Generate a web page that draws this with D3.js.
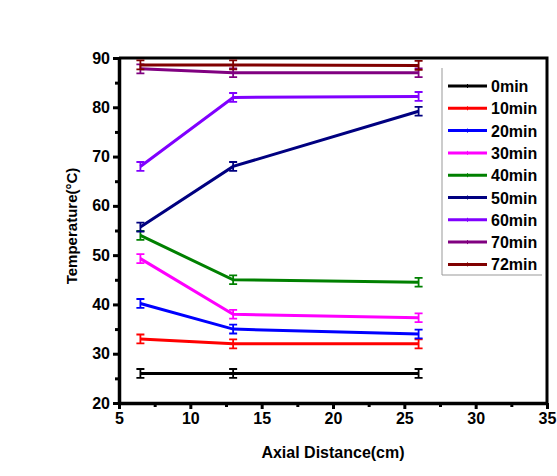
<!DOCTYPE html>
<html>
<head>
<meta charset="utf-8">
<script src="https://cdn.jsdelivr.net/npm/d3@7"></script>
<style>
  body { margin: 0; background: #fff; }
  text { font-family: "Liberation Sans", Arial, sans-serif; font-weight: bold; }
</style>
</head>
<body>
<script>
const width = 557;
const height = 476;

// data
const distances = [6.5, 13, 26];
const seriesNames = ["0min", "10min", "20min", "30min", "40min", "50min", "60min", "70min", "72min"];
const seriesColors = ["#000000", "#ff0000", "#0000ff", "#ff00ff", "#008000", "#000080", "#8000ff", "#800080", "#800000"];
const t0 = [26, 26, 26];
const t10 = [33, 32, 32];
const t20 = [40.2, 35, 34];
const t30 = [49.3, 38, 37.3];
const t40 = [54, 45, 44.5];
const t50 = [55.7, 68, 79.2];
const t60 = [68, 82, 82.2];
const t70 = [87.8, 87, 87];
const t72 = [88.6, 88.6, 88.5];
const errs = [0.9, 0.9, 0.9];
const xTicks = [5, 10, 15, 20, 25, 30, 35];
const yTicks = [20, 30, 40, 50, 60, 70, 80, 90];

const values = [t0, t10, t20, t30, t40, t50, t60, t70, t72];

const svg = d3.select("body").append("svg")
  .attr("width", width)
  .attr("height", height);

const x = d3.scaleLinear().domain([5, 35]).range([119, 547]);
const y = d3.scaleLinear().domain([20, 90]).range([403, 58]);

// frame top + right
svg.append("path")
  .attr("d", `M${x(5)},${y(90)}H${x(35)}V${y(20)}`)
  .attr("fill", "none")
  .attr("stroke", "#000")
  .attr("stroke-width", 3);

// minor ticks
const xMinor = d3.range(7.5, 35, 5);
const yMinor = d3.range(25, 90, 10);

svg.append("g")
  .attr("transform", `translate(0,${y(20)})`)
  .call(d3.axisBottom(x).tickValues(xTicks).tickSize(6).tickSizeOuter(0).tickPadding(4));
svg.append("g")
  .attr("transform", `translate(0,${y(20)})`)
  .call(d3.axisBottom(x).tickValues(xMinor).tickSize(4).tickFormat(""))
  .call(g => g.select(".domain").remove());

svg.append("g")
  .attr("transform", `translate(${x(5)},0)`)
  .call(d3.axisLeft(y).tickValues(yTicks).tickSize(6).tickSizeOuter(0).tickPadding(3));
svg.append("g")
  .attr("transform", `translate(${x(5)},0)`)
  .call(d3.axisLeft(y).tickValues(yMinor).tickSize(4).tickFormat(""))
  .call(g => g.select(".domain").remove());

svg.selectAll(".tick line").attr("stroke-width", 3);
svg.selectAll(".domain").attr("stroke-width", 3.5);
svg.selectAll(".tick text")
  .attr("font-size", 16)
  .attr("font-family", "Liberation Sans, Arial, sans-serif")
  .attr("font-weight", "bold")
  .attr("fill", "#000");

// axis titles
svg.append("text")
  .attr("x", 333)
  .attr("y", 458)
  .attr("text-anchor", "middle")
  .attr("font-size", 16)
  .text("Axial Distance(cm)");

svg.append("text")
  .attr("transform", "translate(77,226) rotate(-90)")
  .attr("text-anchor", "middle")
  .attr("font-size", 15)
  .text("Temperature(°C)");

// series
const line = d3.line()
  .x((d, i) => x(distances[i]))
  .y(d => y(d));

values.forEach((vals, s) => {
  const c = seriesColors[s];
  const g = svg.append("g");
  g.append("path")
    .attr("d", line(vals))
    .attr("fill", "none")
    .attr("stroke", c)
    .attr("stroke-width", 3);
  vals.forEach((v, i) => {
    const cx = x(distances[i]);
    const y1 = y(v + errs[i]);
    const y2 = y(v - errs[i]);
    g.append("path")
      .attr("d", `M${cx},${y1}V${y2}M${cx - 4},${y1}H${cx + 4}M${cx - 4},${y2}H${cx + 4}`)
      .attr("fill", "none")
      .attr("stroke", c)
      .attr("stroke-width", 1.8);
  });
});

// legend
const legend = svg.append("g");
legend.append("path")
  .attr("d", "M442,68V275H542")
  .attr("fill", "none")
  .attr("stroke", "#999")
  .attr("stroke-width", 1);

seriesNames.forEach((name, i) => {
  const ly = 86 + i * 22.3;
  legend.append("line")
    .attr("x1", 448).attr("x2", 487)
    .attr("y1", ly).attr("y2", ly)
    .attr("stroke", seriesColors[i])
    .attr("stroke-width", 3);
  legend.append("line")
    .attr("x1", 467.5).attr("x2", 467.5)
    .attr("y1", ly - 2).attr("y2", ly + 2)
    .attr("stroke", seriesColors[i])
    .attr("stroke-width", 1);
  legend.append("text")
    .attr("x", 491)
    .attr("y", ly + 6)
    .attr("font-size", 16)
    .text(name);
});
</script>
</body>
</html>
